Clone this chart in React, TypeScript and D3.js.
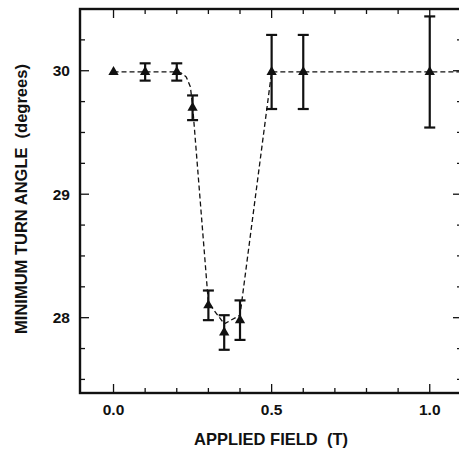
import React from "react";
import * as d3 from "d3";

// Applied field (T) and measured minimum turn angle (degrees) with uncertainty
const fieldT = [0.0, 0.1, 0.2, 0.25, 0.3, 0.35, 0.4, 0.5, 0.6, 1.0];
const turnAngle = [29.99, 29.99, 29.99, 29.7, 28.1, 27.88, 27.98, 29.99, 29.99, 29.99];
const angleErr = [0, 0.07, 0.07, 0.1, 0.12, 0.14, 0.16, 0.3, 0.3, 0.45];

// Hand-drawn guide through the measurements
const guideField = [0.0, 0.2, 0.215, 0.23, 0.243, 0.25, 0.3, 0.35, 0.4, 0.5, 0.6, 1.0, 1.12];
const guideAngle = [29.99, 29.99, 29.98, 29.95, 29.87, 29.72, 28.12, 27.95, 28.02, 29.99, 29.99, 29.99, 29.99];

const xMajorTicks = [0, 0.5, 1.0];
const xTickLabels = ["0.0", "0.5", "1.0"];
const xMinorTicks = [0.1, 0.2, 0.3, 0.4, 0.6, 0.7, 0.8, 0.9];
const yMajorTicks = [28, 29, 30];
const yTickLabels = ["28", "29", "30"];
const yMinorTicks = [27.5, 27.75, 28.25, 28.5, 28.75, 29.25, 29.5, 29.75, 30.25];

const W = 459;
const H = 449;
const left = 80;
const right = 462;
const top = 9;
const bottom = 393;

const FONT = "'Liberation Sans', Arial, Helvetica, sans-serif";

export default function App() {
  const x = d3.scaleLinear().domain([-0.106, 1.102]).range([left, right]);
  const y = d3.scaleLinear().domain([27.39, 30.5]).range([bottom, top]);

  const guide = d3
    .line<number>()
    .x((_, i) => x(guideField[i]))
    .y((d) => y(d))
    .curve(d3.curveLinear)(guideAngle) as string;

  const tri = d3.symbol().type(d3.symbolTriangle).size(46)() as string;

  const majorLen = 9;
  const minorLen = 5;
  const capHalf = 5.5;

  return (
    <svg
      width={W}
      height={H}
      style={{ position: "absolute", left: 0, top: 0, background: "#fff" }}
      fontFamily={FONT}
    >
      <defs>
        <clipPath id="plotArea">
          <rect x={left} y={top} width={right - left} height={bottom - top} />
        </clipPath>
      </defs>

      {/* frame */}
      <rect
        x={left}
        y={top}
        width={right - left}
        height={bottom - top}
        fill="none"
        stroke="#111"
        strokeWidth={2.4}
      />

      {/* x ticks, bottom and top, pointing inward */}
      {xMajorTicks.map((t) => (
        <g key={"xM" + t}>
          <line x1={x(t)} x2={x(t)} y1={bottom} y2={bottom - majorLen} stroke="#111" strokeWidth={1.3} />
          <line x1={x(t)} x2={x(t)} y1={top} y2={top + majorLen} stroke="#111" strokeWidth={1.3} />
        </g>
      ))}
      {xMinorTicks.map((t) => (
        <g key={"xm" + t}>
          <line x1={x(t)} x2={x(t)} y1={bottom} y2={bottom - minorLen} stroke="#111" strokeWidth={1.3} />
          <line x1={x(t)} x2={x(t)} y1={top} y2={top + minorLen} stroke="#111" strokeWidth={1.3} />
        </g>
      ))}

      {/* y ticks, left and right, pointing inward */}
      {yMajorTicks.map((t) => (
        <g key={"yM" + t}>
          <line x1={left} x2={left + majorLen} y1={y(t)} y2={y(t)} stroke="#111" strokeWidth={1.3} />
          <line x1={right} x2={right - majorLen} y1={y(t)} y2={y(t)} stroke="#111" strokeWidth={1.3} />
        </g>
      ))}
      {yMinorTicks.map((t) => (
        <g key={"ym" + t}>
          <line x1={left} x2={left + minorLen} y1={y(t)} y2={y(t)} stroke="#111" strokeWidth={1.3} />
          <line x1={right} x2={right - minorLen} y1={y(t)} y2={y(t)} stroke="#111" strokeWidth={1.3} />
        </g>
      ))}

      {/* tick labels */}
      {xMajorTicks.map((t, i) => (
        <text
          key={"xl" + t}
          x={x(t)}
          y={415}
          textAnchor="middle"
          fontSize={15.5}
          fontWeight="bold"
          fill="#111"
        >
          {xTickLabels[i]}
        </text>
      ))}
      {yMajorTicks.map((t, i) => (
        <text
          key={"yl" + t}
          x={left - 10}
          y={y(t)}
          dy="0.36em"
          textAnchor="end"
          fontSize={15.5}
          fontWeight="bold"
          fill="#111"
        >
          {yTickLabels[i]}
        </text>
      ))}

      {/* axis titles */}
      <text x={271} y={445} textAnchor="middle" fontSize={16.5} fontWeight="bold" fill="#111">
        APPLIED FIELD{"\u00a0\u00a0"}(T)
      </text>
      <text
        transform={`translate(27,199) rotate(-90)`}
        textAnchor="middle"
        fontSize={16.5}
        fontWeight="bold"
        fill="#111"
      >
        MINIMUM TURN ANGLE{"\u00a0\u00a0"}(degrees)
      </text>

      {/* dashed guide */}
      <g clipPath="url(#plotArea)">
        <path
          d={guide}
          fill="none"
          stroke="#111"
          strokeWidth={1.3}
          strokeDasharray="5,3"
          strokeLinejoin="round"
        />
      </g>

      {/* error bars */}
      {fieldT.map((f, i) =>
        angleErr[i] > 0 ? (
          <g key={"e" + i} stroke="#111" strokeWidth={2.2}>
            <line x1={x(f)} x2={x(f)} y1={y(turnAngle[i] + angleErr[i])} y2={y(turnAngle[i] - angleErr[i])} />
            <line
              x1={x(f) - capHalf}
              x2={x(f) + capHalf}
              y1={y(turnAngle[i] + angleErr[i])}
              y2={y(turnAngle[i] + angleErr[i])}
            />
            <line
              x1={x(f) - capHalf}
              x2={x(f) + capHalf}
              y1={y(turnAngle[i] - angleErr[i])}
              y2={y(turnAngle[i] - angleErr[i])}
            />
          </g>
        ) : null
      )}

      {/* markers */}
      {fieldT.map((f, i) => (
        <path key={"m" + i} d={tri} transform={`translate(${x(f)},${y(turnAngle[i])})`} fill="#111" />
      ))}
    </svg>
  );
}
